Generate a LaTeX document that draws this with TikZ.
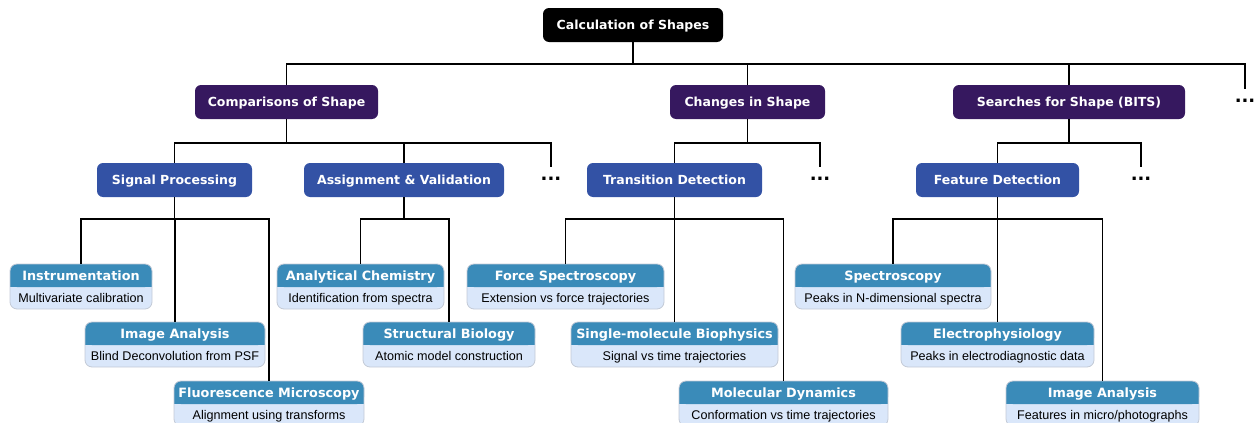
\documentclass[tikz,border=0pt]{standalone}
\usepackage{fontspec}
\setmainfont{Liberation Sans}
\newfontfamily\vfont{DejaVu Sans}
\usepackage{tikz}
\usetikzlibrary{positioning}

\definecolor{topicpurple}{HTML}{36185F}
\definecolor{methodblue}{HTML}{3352A5}
\definecolor{leafhd}{HTML}{3A8BB9}
\definecolor{leafbg}{HTML}{DAE7FA}
\definecolor{leafrim}{HTML}{C3CAD6}

\newcommand{\boxfont}{\vfont\bfseries\fontsize{12.5}{15}\selectfont}
\newcommand{\leaffont}{\vfont\bfseries\fontsize{12.8}{15}\selectfont}
\newcommand{\notefont}{\fontsize{12.6}{15}\selectfont}

% leaf: name, x, top y, width, title, text
\newcommand{\leaf}[6]{%
  \fill[leafbg, rounded corners=7pt] (#2-#4/2,#3) rectangle (#2+#4/2,#3+45);
  \fill[leafhd, rounded corners=7pt] (#2-#4/2,#3) rectangle (#2+#4/2,#3+23);
  \fill[leafhd] (#2-#4/2,#3+14) rectangle (#2+#4/2,#3+23);
  \draw[leafrim, line width=0.8pt, rounded corners=7pt] (#2-#4/2,#3) rectangle (#2+#4/2,#3+45);
  \node[leafhead, minimum width=#4] (#1) at (#2,#3+11.5) {#5};
  \node[leafnote, minimum width=#4, below=0pt of #1] (#1-txt) {#6};
}

\begin{document}
\begin{tikzpicture}[x=1pt, y=-1pt,
  box/.style={rounded corners=6pt, text=white, font=\boxfont, minimum height=34pt,
    inner sep=0pt, text height=9pt, text depth=0pt},
  rootbox/.style={box, fill=black},
  topicbox/.style={box, fill=topicpurple},
  methodbox/.style={box, fill=methodblue},
  leafhead/.style={text=white, font=\leaffont, minimum height=23pt, inner sep=0pt,
    text height=9pt, text depth=0pt},
  leafnote/.style={text=black, font=\notefont, minimum height=22pt, inner sep=0pt,
    text height=9pt, text depth=0pt},
  moredots/.style={font=\vfont\bfseries\fontsize{18}{20}\selectfont, inner sep=0pt, minimum height=24pt},
  link/.style={line width=1.8pt}]

  \useasboundingbox (0,0) rectangle (1254,423);

  % top levels
  \node[rootbox, minimum width=180pt] (root) at (633,25) {Calculation of Shapes};

  \node[topicbox, minimum width=183pt] (cmp) at (286.5,102) {Comparisons of Shape};
  \node[topicbox, minimum width=155pt] (chg) at (747.5,102) {Changes in Shape};
  \node[topicbox, minimum width=232pt] (srch) at (1069,102) {Searches for Shape (BITS)};
  \node[moredots] (more0) at (1245,101) {...};

  \node[methodbox, minimum width=155pt] (sig) at (174.5,180) {Signal Processing};
  \node[methodbox, minimum width=200pt] (asg) at (404,180) {Assignment \& Validation};
  \node[moredots] (more1) at (551,179) {...};
  \node[methodbox, minimum width=175pt] (trn) at (674.5,180) {Transition Detection};
  \node[moredots] (more2) at (820,179) {...};
  \node[methodbox, minimum width=163pt] (feat) at (997.5,180) {Feature Detection};
  \node[moredots] (more3) at (1141,179) {...};

  % leaves
  \leaf{instr}{81}{264}{142}{Instrumentation}{Multivariate calibration}
  \leaf{imga}{175}{322}{180}{Image Analysis}{Blind Deconvolution from PSF}
  \leaf{fluo}{269}{381}{190}{Fluorescence Microscopy}{Alignment using transforms}
  \leaf{anch}{360.5}{264}{167}{Analytical Chemistry}{Identification from spectra}
  \leaf{strb}{449}{322}{172}{Structural Biology}{Atomic model construction}
  \leaf{forc}{565.5}{264}{197}{Force Spectroscopy}{Extension vs force trajectories}
  \leaf{smb}{674.5}{322}{207}{Single-molecule Biophysics}{Signal vs time trajectories}
  \leaf{mold}{783.5}{381}{209}{Molecular Dynamics}{Conformation vs time trajectories}
  \leaf{spec}{893}{264}{196}{Spectroscopy}{Peaks in N-dimensional spectra}
  \leaf{elec}{997.5}{322}{193}{Electrophysiology}{Peaks in electrodiagnostic data}
  \leaf{imgb}{1102.5}{381}{193}{Image Analysis}{Features in micro/photographs}

  % connectors
  \foreach \c in {cmp,chg,srch,more0}
    \draw[link] (root.south) -- ++(0,22) -| (\c.north);
  \foreach \c in {sig,asg,more1}
    \draw[link] (cmp.south) -- ++(0,24) -| (\c.north);
  \foreach \c in {trn,more2}
    \draw[link] (chg.south) -- ++(0,24) -| (\c.north);
  \foreach \c in {feat,more3}
    \draw[link] (srch.south) -- ++(0,24) -| (\c.north);
  \foreach \c in {instr,imga,fluo}
    \draw[link] (sig.south) -- ++(0,22) -| (\c.north);
  \foreach \c in {anch,strb}
    \draw[link] (asg.south) -- ++(0,22) -| (\c.north);
  \foreach \c in {forc,smb,mold}
    \draw[link] (trn.south) -- ++(0,22) -| (\c.north);
  \foreach \c in {spec,elec,imgb}
    \draw[link] (feat.south) -- ++(0,22) -| (\c.north);
\end{tikzpicture}
\end{document}
